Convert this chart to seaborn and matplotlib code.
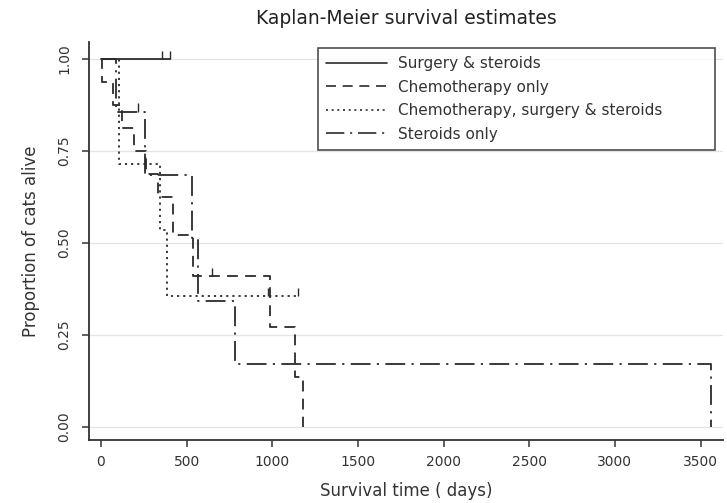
import numpy as np
import pandas as pd
import matplotlib
matplotlib.use("Agg")
import matplotlib.pyplot as plt
import seaborn as sns

# Kaplan-Meier step values (days, survival proportion)
groups = [
    "Surgery & steroids",
    "Chemotherapy only",
    "Chemotherapy, surgery & steroids",
    "Steroids only",
]

surg_ster_days = [0, 405]
surg_ster_surv = [1.0, 1.0]
surg_ster_cens = [357, 405]

chemo_days = [0, 3, 68, 123, 195, 260, 330, 420, 540, 987, 1133, 1180]
chemo_surv = [1.0, 0.938, 0.875, 0.813, 0.75, 0.688, 0.625, 0.521, 0.41, 0.273, 0.137, 0.0]
chemo_cens = [648]

combo_days = [0, 105, 345, 386, 1150]
combo_surv = [1.0, 0.714, 0.536, 0.357, 0.357]
combo_cens = [258, 975, 1150]

ster_days = [0, 90, 257, 531, 565, 782, 3560]
ster_surv = [1.0, 0.857, 0.686, 0.514, 0.343, 0.171, 0.0]
ster_cens = [217]

x_ticks = [0, 500, 1000, 1500, 2000, 2500, 3000, 3500]
y_ticks = [0.0, 0.25, 0.5, 0.75, 1.0]

curves = {
    groups[0]: (surg_ster_days, surg_ster_surv, surg_ster_cens),
    groups[1]: (chemo_days, chemo_surv, chemo_cens),
    groups[2]: (combo_days, combo_surv, combo_cens),
    groups[3]: (ster_days, ster_surv, ster_cens),
}

df = pd.concat(
    [pd.DataFrame({"days": d, "surv": s, "group": g}) for g, (d, s, _) in curves.items()],
    ignore_index=True,
)

ink = "#2b2b2b"
dash_styles = {
    groups[0]: "",
    groups[1]: (6, 4),
    groups[2]: (1.2, 2.2),
    groups[3]: (11, 3.5, 1.2, 3.5),
}

sns.set_theme(style="white")
plt.rcParams["font.family"] = ["DejaVu Sans"]

fig = plt.figure(figsize=(7.27, 5.03), dpi=100)
ax = fig.add_axes([89 / 727, 1 - 440 / 503, 634 / 727, 398 / 503])

sns.lineplot(
    data=df, x="days", y="surv", hue="group", style="group",
    hue_order=groups, style_order=groups, palette=[ink] * 4,
    dashes=dash_styles, drawstyle="steps-post", estimator=None,
    sort=False, lw=1.3, ax=ax,
)

# censoring ticks
for g, (d, s, cens) in curves.items():
    for c in cens:
        idx = np.searchsorted(d, c, side="right") - 1
        ax.vlines(c, s[idx], s[idx] + 0.022, colors=ink, lw=1.0)

ax.set_xlim(-70, 3631)
ax.set_ylim(-0.035, 1.046)
ax.set_xticks(x_ticks)
ax.set_yticks(y_ticks)
ax.set_yticklabels([f"{v:.2f}" for v in y_ticks])

ax.yaxis.grid(True, color="#e4e4e4", lw=0.9)
ax.xaxis.grid(False)
ax.set_axisbelow(True)

sns.despine(ax=ax)
for side in ["left", "bottom"]:
    ax.spines[side].set_color("#333333")
    ax.spines[side].set_linewidth(1.3)

ax.tick_params(axis="both", direction="out", length=5, width=1.1, color="#333333",
               labelsize=10, labelcolor="#333333", bottom=True, left=True)
ax.tick_params(axis="y", labelrotation=90, pad=8)
ax.tick_params(axis="x", pad=6)
plt.setp(ax.get_yticklabels(), va="center")

ax.set_xlabel("Survival time ( days)", fontsize=12, color="#333333", labelpad=9)
ax.set_ylabel("Proportion of cats alive", fontsize=12, color="#333333", labelpad=12)
ax.set_title("Kaplan-Meier survival estimates", fontsize=13.5, color="#222222", pad=13)

sns.move_legend(
    ax, "upper left", bbox_to_anchor=(0.361, 0.70, 0.626, 0.285), mode="expand",
    frameon=True, fancybox=False, edgecolor="#222222", fontsize=11, title=None,
    handlelength=4.0, handletextpad=0.7, labelspacing=0.55, borderpad=0.55,
    borderaxespad=0,
)
leg = ax.get_legend()
leg.get_frame().set_linewidth(1.2)
for line in leg.get_lines():
    line.set_linewidth(1.2)
for t in leg.get_texts():
    t.set_color("#333333")

fig.savefig("out.png", dpi=100)
